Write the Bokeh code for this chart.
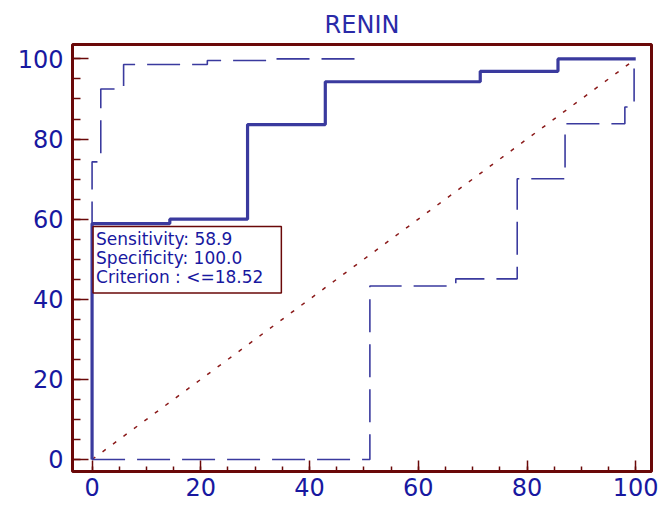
from bokeh.plotting import figure
from bokeh.models import Range1d, FixedTicker, Label
from bokeh.embed import file_html
from bokeh.resources import INLINE

# ---- data ----
chart_title = "RENIN"
tick_values = [0, 20, 40, 60, 80, 100]
minor_tick_values = [0, 5, 10, 15, 20, 25, 30, 35, 40, 45, 50, 55, 60, 65, 70, 75, 80, 85, 90, 95, 100]

# ROC curve (100-Specificity, Sensitivity), step points
roc_fpr = [0, 0, 14.3, 28.6, 42.9, 71.4, 85.7, 100]
roc_tpr = [0, 58.9, 60.0, 83.6, 94.3, 96.9, 100, 100]

# confidence bounds
upper_fpr = [0, 0, 1.6, 5.8, 21.2, 32.5, 49.5]
upper_tpr = [0, 74.3, 92.5, 98.6, 99.6, 100, 100]
lower_fpr = [0, 51.1, 66.9, 78.2, 87.0, 98.0, 99.7]
lower_tpr = [0, 43.3, 45.1, 70.1, 83.8, 88.0, 100]

# reference (chance) line
chance_x = [0, 100]
chance_y = [0, 100]

# optimal criterion
best_sens = 58.9
best_spec = 100.0
best_crit = "<=18.52"

# ---- styles ----
MAROON = "#6a0808"
BLUE_TXT = "#1818a0"
BLUE_LINE = "#3a3a9e"
FONT = "DejaVu Sans"

p = figure(width=664, height=505, output_backend="svg", toolbar_location=None,
           x_range=Range1d(-3.6, 102.9), y_range=Range1d(-3.0, 103.6),
           min_border_left=72, min_border_right=13, min_border_top=44, min_border_bottom=34,
           title=chart_title)

p.title.align = "center"
p.title.text_font = FONT
p.title.text_font_size = "24px"
p.title.text_font_style = "normal"
p.title.text_color = "#2a2aa8"
p.title.standoff = 12

p.grid.visible = False
p.outline_line_color = MAROON
p.outline_line_width = 3
p.background_fill_color = "white"
p.border_fill_color = "white"

for ax in (p.xaxis[0], p.yaxis[0]):
    ax.ticker = FixedTicker(ticks=tick_values, minor_ticks=minor_tick_values)
    ax.axis_line_color = None
    ax.major_tick_line_color = MAROON
    ax.minor_tick_line_color = MAROON
    ax.major_tick_line_width = 1.5
    ax.minor_tick_line_width = 1.5
    ax.major_tick_out = 0
    ax.minor_tick_out = 0
    ax.major_label_text_font = FONT
    ax.major_label_text_font_size = "24px"
    ax.major_label_text_color = BLUE_TXT

p.xaxis.major_tick_in = 11
p.xaxis.minor_tick_in = 5
p.xaxis.major_label_standoff = 6
p.yaxis.major_tick_in = 16
p.yaxis.minor_tick_in = 8
p.yaxis.major_label_standoff = 9

# chance line
p.line(chance_x, chance_y, line_color="#8b1a1a", line_width=1.5, line_dash="4 9")

# confidence bounds
p.step(upper_fpr, upper_tpr, mode="after", line_color=BLUE_LINE, line_width=1.6, line_dash="33 12")
p.step(lower_fpr, lower_tpr, mode="after", line_color=BLUE_LINE, line_width=1.6, line_dash="33 12")

# ROC curve
p.step(roc_fpr, roc_tpr, mode="after", line_color=BLUE_LINE, line_width=3.2)

# annotation box
txt = (f"Sensitivity: {best_sens:.1f}\n"
       f"Specificity: {best_spec:.1f}\n"
       f"Criterion : {best_crit}")
lab = Label(x=0, y=best_sens, x_units="data", y_units="data", text=txt,
            anchor="top_left", x_offset=1, y_offset=-3,
            text_font=FONT, text_font_size="17px", text_color=BLUE_TXT,
            text_line_height=0.96, padding=(3, 18, 2, 6),
            border_line_color=MAROON, border_line_width=1.5,
            background_fill_color="white")
p.add_layout(lab)

open("out.html", "w").write(file_html(p, INLINE))
